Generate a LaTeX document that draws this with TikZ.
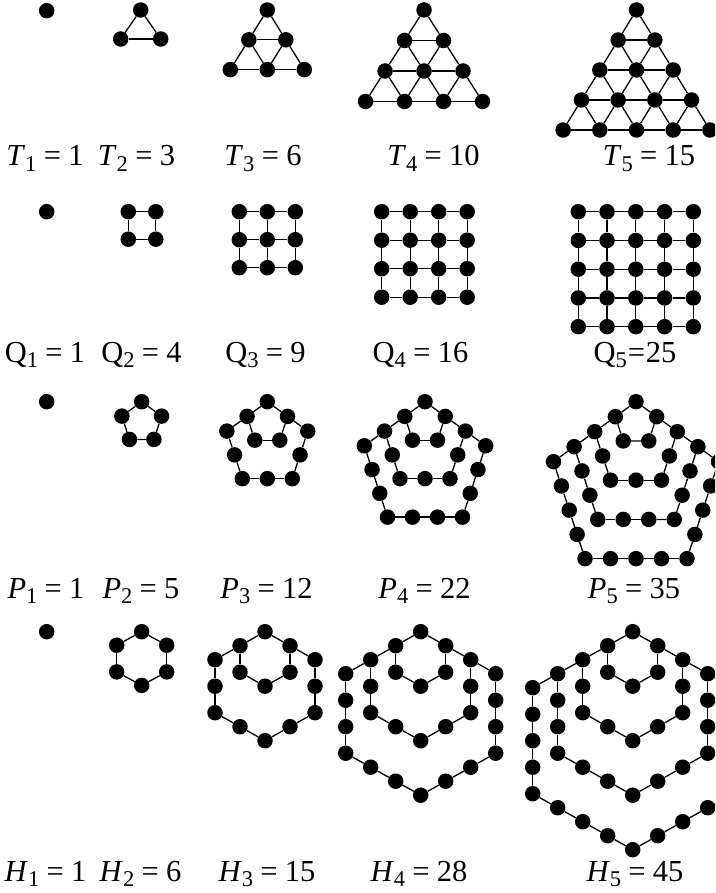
\documentclass[tikz,border=0pt]{standalone}
\usepackage{fontspec}
\setmainfont{Liberation Serif}
\tikzset{
  dot/.style={circle, fill=black, draw=none, inner sep=0pt, minimum size=15.5pt},
  edge/.style={draw=black, line width=1.3pt},
  lab/.style={anchor=base, inner sep=0pt, font=\fontsize{30.5}{36}\selectfont},
}
\newcommand{\eqs}{\hspace{0.24em}=\hspace{0.24em}}
\newcommand{\lsub}[1]{\raisebox{-0.18em}{\fontsize{22.5}{23}\selectfont #1}}
\begin{document}
\begin{tikzpicture}[x=1pt,y=-1pt]
\useasboundingbox (0,0) rectangle (715,893);
\clip (0,0) rectangle (715,893);

% single dots
\node[dot] (t1) at (46.7,10.7) {};
\node[dot] (q1) at (46.7,211.7) {};
\node[dot] (p1) at (46.7,401.7) {};
\node[dot] (h1) at (46.7,631.7) {};

% triangles
\foreach \name/\n/\cx/\dx/\dy in {t2/2/140.7/40/29, t3/3/267.3/37/29.8, t4/4/424/39/30.5, t5/5/636.5/36.7/30}{
  \pgfmathtruncatemacro\nmax{\n-1}
  \foreach \i in {0,...,\nmax}{
    \foreach \j in {0,...,\i}{
      \node[dot] (\name-\i-\j) at ({\cx+(\j-\i/2)*\dx},{10+\i*\dy}) {};
    }
  }
  \foreach \i in {0,...,\nmax}{
    \foreach \j in {0,...,\i}{
      \pgfmathtruncatemacro\jn{\j+1}
      \pgfmathtruncatemacro\ii{\i+1}
      \ifnum\j<\i \draw[edge] (\name-\i-\j) -- (\name-\i-\jn);\fi
      \ifnum\i<\nmax
        \draw[edge] (\name-\i-\j) -- (\name-\ii-\j);
        \draw[edge] (\name-\i-\j) -- (\name-\ii-\jn);
      \fi
    }
  }
}

% squares
\foreach \name/\n/\xo/\d in {q2/2/128.3/27.5, q3/3/239.3/28, q4/4/381.7/28.5, q5/5/578.3/28.75}{
  \pgfmathtruncatemacro\nmax{\n-1}
  \foreach \i in {0,...,\nmax}{
    \foreach \j in {0,...,\nmax}{
      \node[dot] (\name-\i-\j) at ({\xo+\j*\d},{211.7+\i*\d}) {};
    }
  }
  \foreach \i in {0,...,\nmax}{
    \foreach \j in {0,...,\nmax}{
      \pgfmathtruncatemacro\jn{\j+1}
      \pgfmathtruncatemacro\ii{\i+1}
      \ifnum\j<\nmax \draw[edge] (\name-\i-\j) -- (\name-\i-\jn);\fi
      \ifnum\i<\nmax \draw[edge] (\name-\i-\j) -- (\name-\ii-\j);\fi
    }
  }
}

% pentagons
\foreach \name/\n/\cx/\s in {p2/2/141.7/24.5, p3/3/267.3/25, p4/4/425/25, p5/5/636/25.5}{
  \pgfmathtruncatemacro\nmax{\n-1}
  \node[dot, alias=\name-l-0] (\name-r-0) at (\cx,401.7) {};
  \foreach \m in {1,...,\nmax}{
    \node[dot] (\name-r-\m) at ({\cx+\m*\s*0.809},{401.7+\m*\s*0.588}) {};
    \node[dot] (\name-l-\m) at ({\cx-\m*\s*0.809},{401.7+\m*\s*0.588}) {};
  }
  \foreach \k in {1,...,\nmax}{
    \pgfmathtruncatemacro\pmax{3*\k-1}
    \foreach \p in {1,...,\pmax}{
      \ifnum\p>\numexpr2*\k\relax
        \pgfmathsetmacro\px{\cx-\k*\s*0.5-(\p-2*\k)*\s*0.309}
        \pgfmathsetmacro\py{401.7+\k*\s*1.539-(\p-2*\k)*\s*0.951}
      \else\ifnum\p>\k
        \pgfmathsetmacro\px{\cx+\k*\s*0.5-(\p-\k)*\s}
        \pgfmathsetmacro\py{401.7+\k*\s*1.539}
      \else
        \pgfmathsetmacro\px{\cx+\k*\s*0.809-\p*\s*0.309}
        \pgfmathsetmacro\py{401.7+\k*\s*0.588+\p*\s*0.951}
      \fi\fi
      \node[dot] (\name-\k-\p) at (\px,\py) {};
    }
  }
  \foreach \m in {1,...,\nmax}{
    \pgfmathtruncatemacro\mprev{\m-1}
    \draw[edge] (\name-r-\mprev) -- (\name-r-\m);
    \draw[edge] (\name-l-\mprev) -- (\name-l-\m);
  }
  \foreach \k in {1,...,\nmax}{
    \pgfmathtruncatemacro\pmax{3*\k-1}
    \draw[edge] (\name-r-\k) -- (\name-\k-1);
    \draw[edge] (\name-\k-\pmax) -- (\name-l-\k);
    \foreach \p in {2,...,\pmax}{
      \pgfmathtruncatemacro\pprev{\p-1}
      \draw[edge] (\name-\k-\pprev) -- (\name-\k-\p);
    }
  }
}

% hexagons
\foreach \name/\n/\cx/\hx/\hy/\v in {h2/2/141.7/25/13.5/26.7, h3/3/265/25/14/26.5, h4/4/420.7/25/14/26.5, h5/5/632.7/25/14/26.5}{
  \pgfmathtruncatemacro\nmax{\n-1}
  \node[dot, alias=\name-l-0] (\name-r-0) at (\cx,631.7) {};
  \foreach \m in {1,...,\nmax}{
    \node[dot] (\name-r-\m) at ({\cx+\m*\hx},{631.7+\m*\hy}) {};
    \node[dot] (\name-l-\m) at ({\cx-\m*\hx},{631.7+\m*\hy}) {};
  }
  \foreach \k in {1,...,\nmax}{
    \pgfmathtruncatemacro\pmax{4*\k-1}
    \foreach \p in {1,...,\pmax}{
      \ifnum\p>\numexpr3*\k\relax
        \pgfmathsetmacro\px{\cx-\k*\hx}
        \pgfmathsetmacro\py{631.7+\k*(\hy+\v)-(\p-3*\k)*\v}
      \else\ifnum\p>\numexpr2*\k\relax
        \pgfmathsetmacro\px{\cx-(\p-2*\k)*\hx}
        \pgfmathsetmacro\py{631.7+\k*(2*\hy+\v)-(\p-2*\k)*\hy}
      \else\ifnum\p>\k
        \pgfmathsetmacro\px{\cx+\k*\hx-(\p-\k)*\hx}
        \pgfmathsetmacro\py{631.7+\k*(\hy+\v)+(\p-\k)*\hy}
      \else
        \pgfmathsetmacro\px{\cx+\k*\hx}
        \pgfmathsetmacro\py{631.7+\k*\hy+\p*\v}
      \fi\fi\fi
      \node[dot] (\name-\k-\p) at (\px,\py) {};
    }
  }
  \foreach \m in {1,...,\nmax}{
    \pgfmathtruncatemacro\mprev{\m-1}
    \draw[edge] (\name-r-\mprev) -- (\name-r-\m);
    \draw[edge] (\name-l-\mprev) -- (\name-l-\m);
  }
  \foreach \k in {1,...,\nmax}{
    \pgfmathtruncatemacro\pmax{4*\k-1}
    \draw[edge] (\name-r-\k) -- (\name-\k-1);
    \draw[edge] (\name-\k-\pmax) -- (\name-l-\k);
    \foreach \p in {2,...,\pmax}{
      \pgfmathtruncatemacro\pprev{\p-1}
      \draw[edge] (\name-\k-\pprev) -- (\name-\k-\p);
    }
  }
}

% labels
\node[lab] (lt1) at (45,166) {\textit{T}\lsub{1}\eqs 1};
\node[lab] (lt2) at (136.5,166) {\textit{T}\lsub{2}\eqs 3};
\node[lab] (lt3) at (263,166) {\textit{T}\lsub{3}\eqs 6};
\node[lab] (lt4) at (433.5,166) {\textit{T}\lsub{4}\eqs 10};
\node[lab] (lt5) at (649,166) {\textit{T}\lsub{5}\eqs 15};

\node[lab] (lq1) at (45,362) {Q\lsub{1}\eqs 1};
\node[lab] (lq2) at (141.5,362) {Q\lsub{2}\eqs 4};
\node[lab] (lq3) at (265.5,362) {Q\lsub{3}\eqs 9};
\node[lab] (lq4) at (420.5,362) {Q\lsub{4}\eqs 16};
\node[lab] (lq5) at (635,362) {Q\lsub{5}\hspace{1pt}=\hspace{1pt}25};

\node[lab] (lp1) at (46,598) {\textit{P}\lsub{1}\eqs 1};
\node[lab] (lp2) at (141,598) {\textit{P}\lsub{2}\eqs 5};
\node[lab] (lp3) at (266.5,598) {\textit{P}\lsub{3}\eqs 12};
\node[lab] (lp4) at (424.5,598) {\textit{P}\lsub{4}\eqs 22};
\node[lab] (lp5) at (634,598) {\textit{P}\lsub{5}\eqs 35};

\node[lab] (lh1) at (45.5,881) {\textit{H}\lsub{1}\eqs 1};
\node[lab] (lh2) at (140.5,881) {\textit{H}\lsub{2}\eqs 6};
\node[lab] (lh3) at (267,881) {\textit{H}\lsub{3}\eqs 15};
\node[lab] (lh4) at (419,881) {\textit{H}\lsub{4}\eqs 28};
\node[lab] (lh5) at (635,881) {\textit{H}\lsub{5}\eqs 45};
\end{tikzpicture}
\end{document}
